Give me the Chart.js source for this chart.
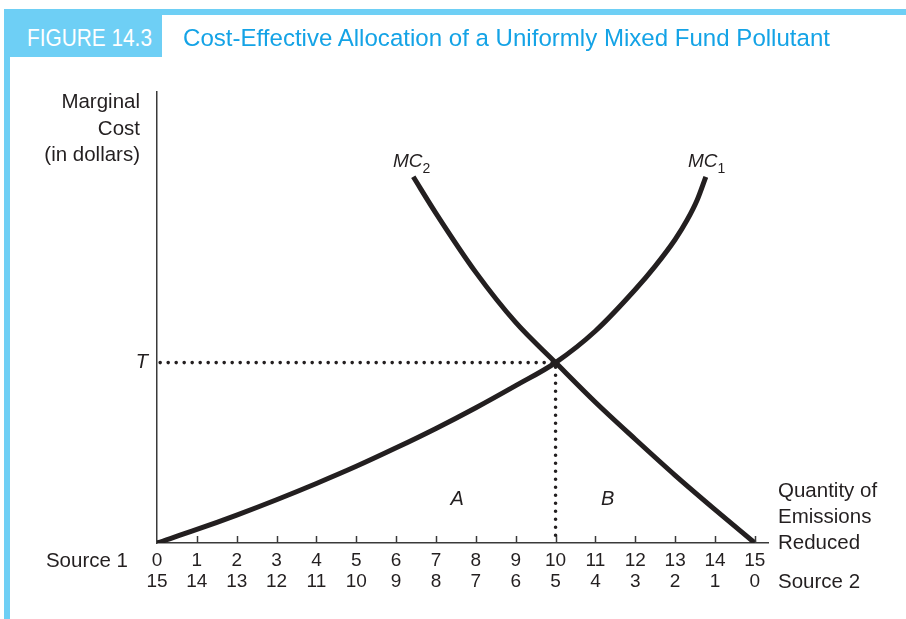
<!DOCTYPE html>
<html>
<head>
<meta charset="utf-8">
<script src="https://cdn.jsdelivr.net/npm/chart.js@4/dist/chart.umd.min.js"></script>
<style>
  html, body { margin: 0; padding: 0; background: #fff; }
  #figure { position: relative; width: 906px; height: 619px; overflow: hidden; }
  #chart { position: absolute; left: 0; top: 0; }
  .bar { position: absolute; background: #6ecff5; }
  #barTop { left: 4px; top: 9px; width: 902px; height: 6px; }
  #barLeft { left: 4px; top: 9px; width: 6px; height: 610px; }
  #tagBox { left: 10px; top: 15px; width: 152px; height: 42px; }
  .head {
    position: absolute; top: 26px; white-space: nowrap;
    font-family: "Liberation Sans", Arial, sans-serif; font-size: 24.5px; line-height: 24px;
    transform-origin: 0 0;
  }
  #tag { left: 27px; color: #fff; }
  #title { left: 183px; color: #14a3e6; }
</style>
</head>
<body>
<div id="figure">
  <canvas id="chart" width="906" height="619"></canvas>
  <div class="bar" id="barTop"></div>
  <div class="bar" id="barLeft"></div>
  <div class="bar" id="tagBox"></div>
  <div class="head" id="tag">FIGURE 14.3</div>
  <div class="head" id="title">Cost-Effective Allocation of a Uniformly Mixed Fund Pollutant</div>
</div>
<script>
// Quantity reduced by each source (Source 1 runs left to right, Source 2 right to left)
const source1Ticks = [0, 1, 2, 3, 4, 5, 6, 7, 8, 9, 10, 11, 12, 13, 14, 15];
const source2Ticks = [15, 14, 13, 12, 11, 10, 9, 8, 7, 6, 5, 4, 3, 2, 1, 0];

// Marginal cost curves, read along the Source 1 axis
const mc1X = [0, 1, 2, 3, 4, 5, 6, 7, 8, 9, 10, 11, 12, 12.5, 13, 13.3, 13.55, 13.77];
const mc1Y = [0, 3.0, 6.2, 9.6, 13.2, 17.0, 21.1, 25.4, 30.0, 34.9, 40, 47.0, 56.2, 61.4, 67.3, 71.6, 76.0, 81.2];
const mc2X = [6.43, 7, 8, 9, 10, 11, 12, 13, 14, 15];
const mc2Y = [81.2, 73.1, 60.0, 48.9, 40, 31.2, 23.0, 15.0, 7.4, 0];

// Cost-effective allocation: tax T where the curves cross
const taxT = 40;
const allocation = 10;

// Curve names and area labels
const curveLabels = [
  { name: "MC", sub: "2", x: 5.92, y: 83.4 },
  { name: "MC", sub: "1", x: 13.32, y: 83.4 }
];
const areaLabels = [
  { text: "A", x: 7.53, y: 8.4 },
  { text: "B", x: 11.31, y: 8.4 }
];

const ink = "#231f20";
const fontFamily = '"Liberation Sans", Arial, Helvetica, sans-serif';

// squeeze the heading text to a condensed look
function fitWidth(id, w) {
  const el = document.getElementById(id);
  const natural = el.getBoundingClientRect().width;
  el.style.transform = "scaleX(" + (w / natural) + ")";
}
fitWidth("tag", 125);
fitWidth("title", 647);

function toPoints(xs, ys) {
  return xs.map((x, i) => ({ x: x, y: ys[i] }));
}

const textPlugin = {
  id: "figureText",
  afterDraw(chart) {
    const ctx = chart.ctx;
    const area = chart.chartArea;
    const xs = chart.scales.x;
    const ys = chart.scales.y;
    ctx.save();

    // tick marks point up into the plot
    ctx.strokeStyle = "#3a3a3a";
    ctx.lineWidth = 1.5;
    source1Ticks.forEach((v) => {
      if (v === 0) return;
      const px = Math.round(xs.getPixelForValue(v)) + 0.5;
      ctx.beginPath();
      ctx.moveTo(px, area.bottom);
      ctx.lineTo(px, area.bottom - 7);
      ctx.stroke();
    });

    ctx.fillStyle = ink;
    ctx.textBaseline = "alphabetic";

    // y axis title
    ctx.font = "20.5px " + fontFamily;
    ctx.textAlign = "right";
    ["Marginal", "Cost", "(in dollars)"].forEach((t, i) => {
      ctx.fillText(t, area.left - 17, area.top + 16 + i * 26.5);
    });

    // source names beside the two rows of tick labels
    ctx.fillText("Source 1", area.left - 29, area.bottom + 24);
    ctx.textAlign = "left";
    ctx.fillText("Source 2", area.right + 10, area.bottom + 45);

    // x axis title
    ["Quantity of", "Emissions", "Reduced"].forEach((t, i) => {
      ctx.fillText(t, area.right + 10, area.bottom - 46 + i * 26);
    });

    // curve names with subscripts
    curveLabels.forEach((l) => {
      const px = xs.getPixelForValue(l.x);
      const py = ys.getPixelForValue(l.y);
      ctx.font = "italic 19px " + fontFamily;
      ctx.textAlign = "left";
      ctx.fillText(l.name, px, py);
      const w = ctx.measureText(l.name).width;
      ctx.font = "14px " + fontFamily;
      ctx.fillText(l.sub, px + w, py + 6);
    });

    // areas under the curves
    ctx.font = "italic 20px " + fontFamily;
    ctx.textAlign = "center";
    areaLabels.forEach((l) => {
      ctx.fillText(l.text, xs.getPixelForValue(l.x), ys.getPixelForValue(l.y));
    });

    ctx.restore();
  }
};

const ctx = document.querySelector("#chart").getContext("2d");
new Chart(ctx, {
  type: "line",
  data: {
    datasets: [
      {
        label: "MC1",
        data: toPoints(mc1X, mc1Y),
        borderColor: ink,
        borderWidth: 5,
        pointRadius: 0,
        cubicInterpolationMode: "monotone"
      },
      {
        label: "MC2",
        data: toPoints(mc2X, mc2Y),
        borderColor: ink,
        borderWidth: 5,
        pointRadius: 0,
        cubicInterpolationMode: "monotone"
      },
      {
        label: "T",
        data: [
          { x: 0.08, y: taxT },
          { x: allocation, y: taxT },
          { x: allocation, y: 0 }
        ],
        borderColor: ink,
        borderWidth: 3.6,
        borderDash: [0, 8],
        borderCapStyle: "round",
        pointRadius: 0,
        tension: 0
      }
    ]
  },
  options: {
    responsive: false,
    animation: false,
    events: [],
    layout: { padding: { top: 92, right: 138, left: 0, bottom: 0 } },
    plugins: {
      legend: { display: false },
      tooltip: { enabled: false }
    },
    scales: {
      x: {
        type: "linear",
        min: 0,
        max: 15.33,
        afterBuildTicks: (scale) => {
          scale.ticks = source1Ticks.map((v) => ({ value: v }));
        },
        afterFit: (scale) => {
          scale.height = 76;
        },
        grid: { display: false, drawTicks: false },
        border: { display: true, color: "#3a3a3a", width: 1.5 },
        ticks: {
          autoSkip: false,
          maxRotation: 0,
          padding: 7,
          color: ink,
          font: { family: fontFamily, size: 19, lineHeight: "21px" },
          callback: (value, index) => [String(source1Ticks[index]), String(source2Ticks[index])]
        }
      },
      y: {
        type: "linear",
        min: 0,
        max: 100,
        afterBuildTicks: (scale) => {
          scale.ticks = [{ value: taxT }];
        },
        afterFit: (scale) => {
          scale.width = 157;
        },
        grid: { display: false, drawTicks: false },
        border: { display: true, color: "#3a3a3a", width: 1.5 },
        ticks: {
          padding: 9,
          color: ink,
          font: { family: fontFamily, size: 20, style: "italic" },
          callback: () => "T"
        }
      }
    }
  },
  plugins: [textPlugin]
});
</script>
</body>
</html>
